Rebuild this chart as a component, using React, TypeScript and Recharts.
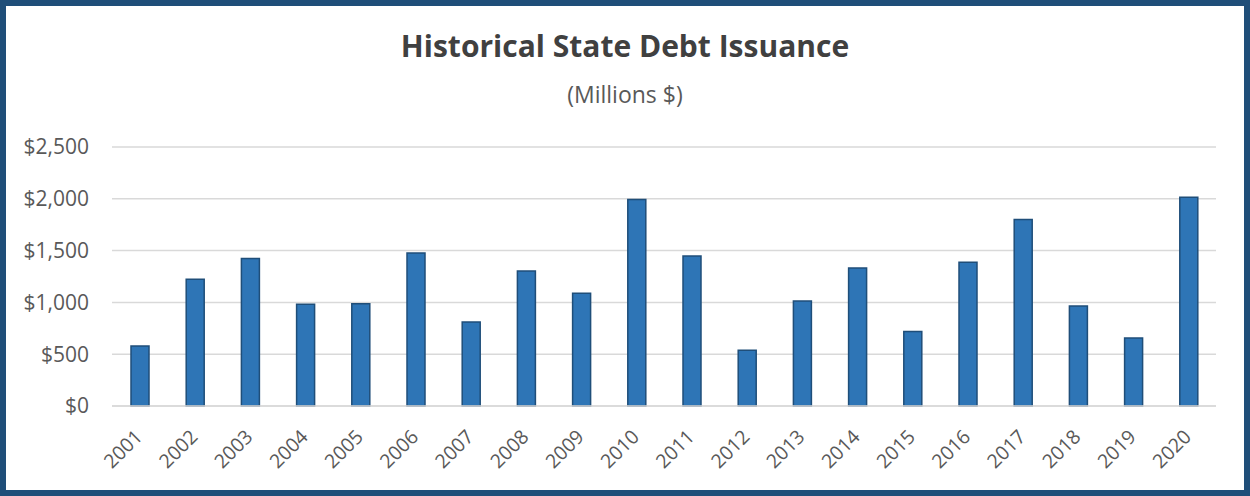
import { BarChart, Bar, XAxis, YAxis, CartesianGrid } from "recharts";

const years = [
  "2001", "2002", "2003", "2004", "2005", "2006", "2007", "2008", "2009", "2010",
  "2011", "2012", "2013", "2014", "2015", "2016", "2017", "2018", "2019", "2020",
];
const issuance = [
  578, 1223, 1424, 982, 988, 1478, 810, 1304, 1088, 1994,
  1449, 537, 1014, 1333, 718, 1388, 1801, 965, 656, 2014,
];
const yTicks = [0, 500, 1000, 1500, 2000, 2500];

const data = years.map((year, i) => ({ year, value: issuance[i] }));

const FONT = "'Open Sans', sans-serif";
const LABEL = "#595959";

const money = (v: number) => "$" + v.toLocaleString("en-US");

function YearTick(props: any) {
  const { x, y, payload } = props;
  return (
    <g transform={`translate(${x + 4},${y + 32})`}>
      <text
        x={0}
        y={0}
        textAnchor="end"
        transform="rotate(-45)"
        fill={LABEL}
        fontSize={19.5}
        fontFamily={FONT}
      >
        {payload.value}
      </text>
    </g>
  );
}

export default function App() {
  return (
    <div
      style={{
        position: "relative",
        width: 1250,
        height: 496,
        boxSizing: "border-box",
        border: "6px solid #1F4E79",
        background: "#fff",
        fontFamily: FONT,
      }}
    >
      <style>{"body{margin:0}"}</style>

      {/* Titles */}
      <div
        style={{
          position: "absolute",
          top: 23,
          left: 0,
          width: 1238,
          textAlign: "center",
          fontSize: 30,
          fontWeight: 700,
          color: "#404040",
          lineHeight: "34px",
        }}
      >
        Historical State Debt Issuance
      </div>
      <div
        style={{
          position: "absolute",
          top: 75,
          left: 0,
          width: 1238,
          textAlign: "center",
          fontSize: 23,
          color: LABEL,
          lineHeight: "26px",
        }}
      >
        (Millions $)
      </div>

      <div style={{ position: "absolute", left: 0, top: 0 }}>
        <BarChart
          width={1238}
          height={484}
          data={data}
          margin={{ top: 141, right: 28, bottom: 0, left: 0 }}
          barSize={18}
        >
          <CartesianGrid vertical={false} stroke="#d9d9d9" strokeWidth={1.5} />
          <XAxis
            dataKey="year"
            height={84}
            axisLine={{ stroke: "#d9d9d9", strokeWidth: 1.5 }}
            tickLine={false}
            tickSize={0}
            tickMargin={0}
            interval={0}
            tick={<YearTick />}
          />
          <YAxis
            width={106}
            domain={[0, 2500]}
            ticks={yTicks}
            axisLine={false}
            tickLine={false}
            tickSize={0}
            tickMargin={23}
            tickFormatter={money}
            tick={{ fill: LABEL, fontSize: 21, fontFamily: FONT }}
          />
          <Bar
            dataKey="value"
            fill="#2E75B6"
            stroke="#1F4E79"
            strokeWidth={1.5}
            isAnimationActive={false}
          />
        </BarChart>
      </div>
    </div>
  );
}
